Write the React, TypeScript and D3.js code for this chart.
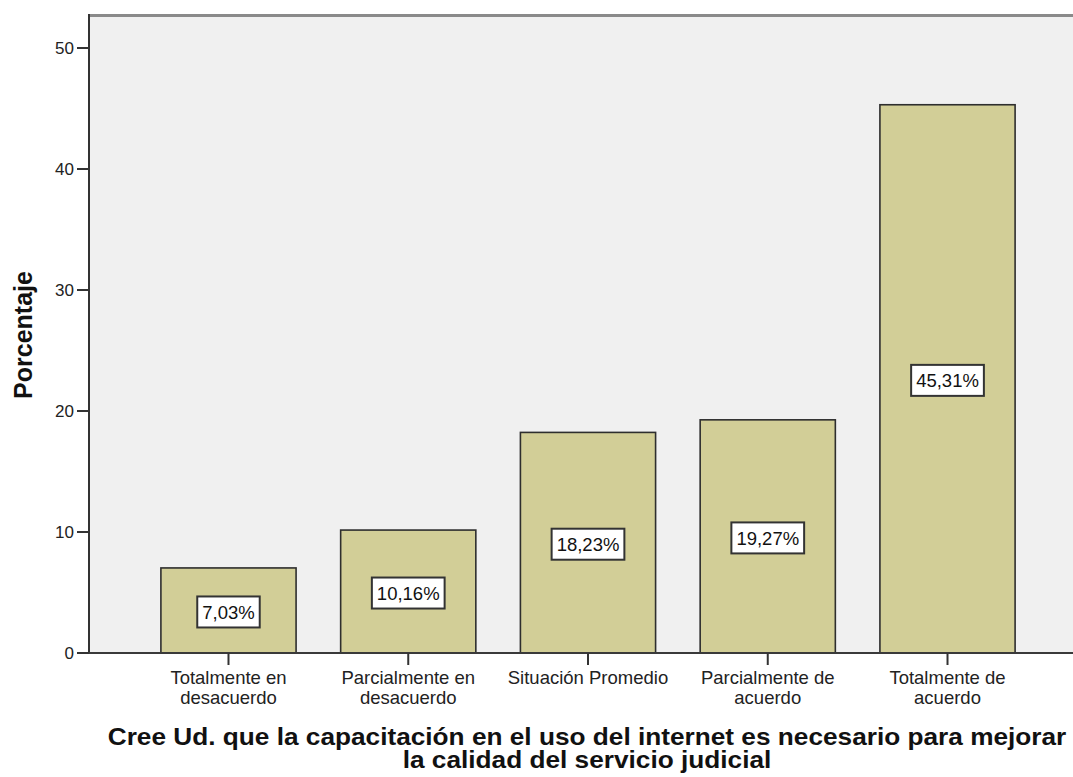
import React, { useEffect, useRef } from "react";
import * as d3 from "d3";

const categories: string[][] = [
  ["Totalmente en", "desacuerdo"],
  ["Parcialmente en", "desacuerdo"],
  ["Situación Promedio"],
  ["Parcialmente de", "acuerdo"],
  ["Totalmente de", "acuerdo"],
];
const values: number[] = [7.03, 10.16, 18.23, 19.27, 45.31];
const yTicks: number[] = [0, 10, 20, 30, 40, 50];
const yTitle = "Porcentaje";
const xTitle: string[] = [
  "Cree Ud. que la capacitación en el uso del internet es necesario para mejorar",
  "la calidad del servicio judicial",
];

const W = 1073;
const H = 777;
const FONT = "'Liberation Sans', Arial, sans-serif";

export default function App() {
  const ref = useRef<SVGSVGElement | null>(null);

  useEffect(() => {
    const svg = d3.select(ref.current);
    svg.selectAll("*").remove();

    const left = 89, right = 1087, top = 15, bottom = 653;
    const keys = categories.map((c) => c.join(" "));
    const x = d3.scaleBand<string>().domain(keys).range([left, right]).paddingInner(0.248).paddingOuter(0.4);
    const y = d3.scaleLinear().domain([0, 50]).range([bottom, 48]);

    // plot background
    svg.append("rect").attr("x", left).attr("y", top).attr("width", right - left).attr("height", bottom - top).attr("fill", "#f0f0f0");
    // top border
    svg.append("line").attr("x1", left).attr("x2", right).attr("y1", top + 0.5).attr("y2", top + 0.5).attr("stroke", "#8a8a8a").attr("stroke-width", 3);

    // bars
    const g = svg.append("g");
    values.forEach((v, i) => {
      const k = keys[i];
      g.append("rect")
        .attr("x", x(k)!)
        .attr("y", y(v))
        .attr("width", x.bandwidth())
        .attr("height", y(0) - y(v))
        .attr("fill", "#d2ce97")
        .attr("stroke", "#2e2e2e")
        .attr("stroke-width", 1.6);
    });

    // y axis
    svg.append("line").attr("x1", left).attr("x2", left).attr("y1", top - 1).attr("y2", bottom + 1).attr("stroke", "#333").attr("stroke-width", 2);
    yTicks.forEach((t) => {
      svg.append("line").attr("x1", left - 12).attr("x2", left).attr("y1", y(t)).attr("y2", y(t)).attr("stroke", "#333").attr("stroke-width", 2);
      svg.append("text").attr("x", 74).attr("y", y(t)).attr("dy", "0.36em").attr("text-anchor", "end")
        .attr("font-family", FONT).attr("font-size", 17).attr("fill", "#222").text(String(t));
    });

    // x axis
    svg.append("line").attr("x1", left).attr("x2", right).attr("y1", bottom).attr("y2", bottom).attr("stroke", "#3a3a3a").attr("stroke-width", 2);
    categories.forEach((lines, i) => {
      const cx = x(keys[i])! + x.bandwidth() / 2;
      svg.append("line").attr("x1", cx).attr("x2", cx).attr("y1", bottom).attr("y2", bottom + 12).attr("stroke", "#333").attr("stroke-width", 2);
      lines.forEach((ln, j) => {
        svg.append("text").attr("x", cx).attr("y", 684 + j * 19.5).attr("text-anchor", "middle")
          .attr("font-family", FONT).attr("font-size", 18.5).attr("fill", "#222").text(ln);
      });
    });

    // value labels
    values.forEach((v, i) => {
      const cx = x(keys[i])! + x.bandwidth() / 2;
      const cy = (y(v) + y(0)) / 2 + 1.5;
      const lg = svg.append("g");
      const txt = lg.append("text").attr("x", cx).attr("y", cy).attr("dy", "0.36em").attr("text-anchor", "middle")
        .attr("font-family", FONT).attr("font-size", 18.5).attr("fill", "#111")
        .text(v.toFixed(2).replace(".", ",") + "%");
      const bb = (txt.node() as SVGTextElement).getBBox();
      lg.insert("rect", "text")
        .attr("x", cx - bb.width / 2 - 5)
        .attr("y", cy - 15.5)
        .attr("width", bb.width + 10)
        .attr("height", 31)
        .attr("fill", "#fff")
        .attr("stroke", "#333")
        .attr("stroke-width", 2);
    });

    // y title
    svg.append("text").attr("transform", `translate(32,335) rotate(-90)`).attr("text-anchor", "middle")
      .attr("font-family", FONT).attr("font-size", 25).attr("font-weight", "bold").attr("fill", "#111").text(yTitle);

    // x title (horizontally stretched as in the reference)
    xTitle.forEach((ln, j) => {
      svg.append("text")
        .attr("transform", `translate(587,${745 + j * 23}) scale(1.14,1)`)
        .attr("text-anchor", "middle")
        .attr("font-family", FONT).attr("font-size", 23).attr("font-weight", "bold").attr("fill", "#111").text(ln);
    });
  }, []);

  return (
    <svg
      ref={ref}
      width={W}
      height={H}
      style={{ position: "absolute", left: 0, top: 0, background: "#fff" }}
    />
  );
}
